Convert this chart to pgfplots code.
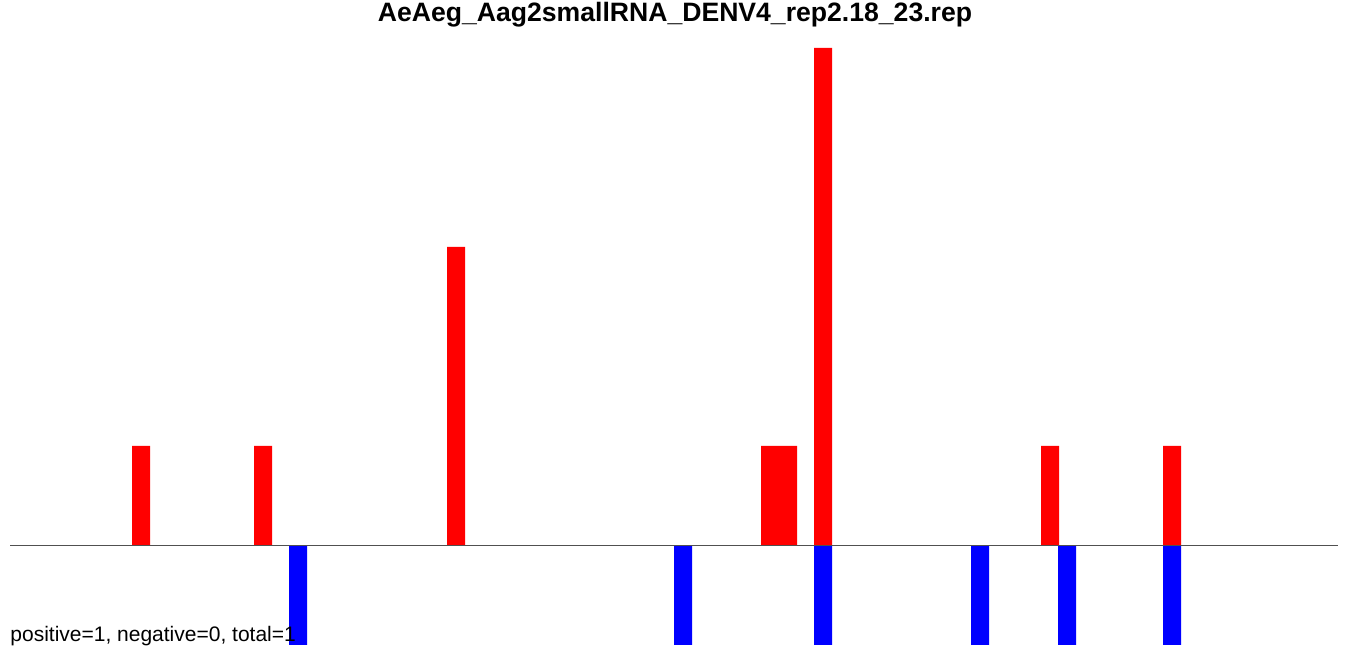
\documentclass[border=0pt]{standalone}
\usepackage{pgfplots}
\pgfplotsset{compat=1.18}
\usepackage{fontspec}
\setmainfont{Liberation Sans}
\definecolor{pos}{RGB}{255,0,0}
\definecolor{neg}{RGB}{0,0,255}
\definecolor{base}{RGB}{80,80,80}
\begin{document}
\begin{tikzpicture}[x=0.5pt,y=0.5pt]
\useasboundingbox (0,0) rectangle (1350,656);
\begin{axis}[
  at={(5pt,5.5pt)}, anchor=south west,
  scale only axis, width=664pt, height=298.5pt,
  xmin=10, xmax=1338, ymin=-1, ymax=5,
  axis lines=none, ticks=none,
  ybar, bar width=9pt, bar shift=0pt,
  clip=false,
]
\addplot[fill=pos, draw=none] coordinates {
 (141,1) (263,1) (456,3) (770,1) (788,1) (823,5) (1050,1) (1172,1)};
\addplot[fill=neg, draw=none] coordinates {
 (298,-1) (683,-1) (823,-1) (980,-1) (1067,-1) (1172,-1)};
\draw[base, line width=0.6pt] (axis cs:10,0) -- (axis cs:1338,0);
\end{axis}
\node[anchor=base, font=\fontsize{13.3}{15}\selectfont\bfseries] at (675,634) {AeAeg\_Aag2smallRNA\_DENV4\_rep2.18\_23.rep};
\node[anchor=base west, inner sep=0pt, font=\fontsize{10.5}{12}\selectfont] at (10,14) {positive=1, negative=0, total=1};
\end{tikzpicture}
\end{document}
